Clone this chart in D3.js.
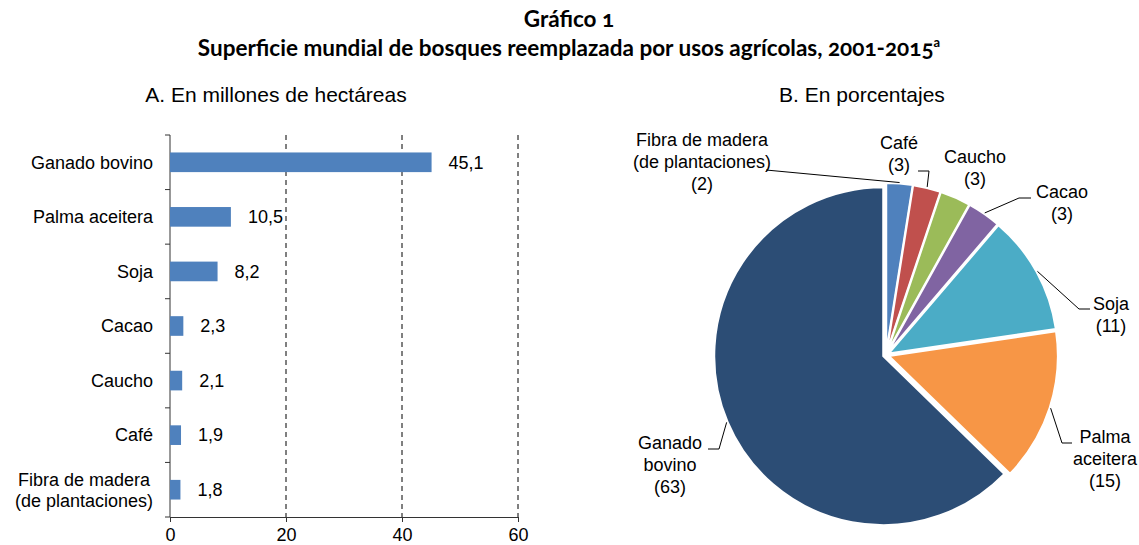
<!DOCTYPE html>
<html>
<head>
<meta charset="utf-8">
<script src="https://cdn.jsdelivr.net/npm/d3@7"></script>
<style>
  body { margin: 0; background: #fff; }
  text { font-family: "Liberation Sans", Arial, sans-serif; fill: #000; }
  .title { font-family: Lato, "Open Sans", sans-serif; font-weight: bold; font-variant-numeric: oldstyle-nums; }
</style>
</head>
<body>
<div id="chart"></div>
<script>
// data
const categories = ['Ganado bovino', 'Palma aceitera', 'Soja', 'Cacao', 'Caucho', 'Café', 'Fibra de madera (de plantaciones)'];
const categoryLines = [['Ganado bovino'], ['Palma aceitera'], ['Soja'], ['Cacao'], ['Caucho'], ['Café'], ['Fibra de madera', '(de plantaciones)']];
const hectares = [45.1, 10.5, 8.2, 2.3, 2.1, 1.9, 1.8];
const valueLabels = ['45,1', '10,5', '8,2', '2,3', '2,1', '1,9', '1,8'];
const xTicks = [0, 20, 40, 60];

// pie, clockwise from 12 o'clock
const pieCategories = ['Fibra de madera (de plantaciones)', 'Café', 'Caucho', 'Cacao', 'Soja', 'Palma aceitera', 'Ganado bovino'];
const pieHectares = [1.8, 1.9, 2.1, 2.3, 8.2, 10.5, 45.1];
const percentages = [2, 3, 3, 3, 11, 15, 63];
const pieLabelLines = [['Fibra de madera', '(de plantaciones)'], ['Café'], ['Caucho'], ['Cacao'], ['Soja'], ['Palma', 'aceitera'], ['Ganado', 'bovino']];
const pieColors = ['#4F81BD', '#C0504D', '#9BBB59', '#8064A2', '#4BACC6', '#F79646', '#2C4D75'];

// label placement for the pie (layout only)
const pieLabelLayout = [
  { x: 702, y: 146, leader: [[766, 170]] },
  { x: 899, y: 149, leader: [[918, 171], [929, 171]] },
  { x: 975, y: 163, leader: null },
  { x: 1062, y: 198, leader: [[1031, 198], [1019, 198]] },
  { x: 1111, y: 310, leader: [[1090, 309], [1079, 309]] },
  { x: 1105, y: 443, leader: [[1072, 443], [1062, 443]] },
  { x: 670, y: 449, leader: [[708, 449], [719, 449]] },
];

const W = 1139;
const H = 545;

const svg = d3.select('#chart')
  .append('svg')
  .attr('width', W)
  .attr('height', H);

// titles
svg.append('text')
  .attr('class', 'title')
  .attr('x', 569)
  .attr('y', 27)
  .attr('text-anchor', 'middle')
  .style('font-size', '22.5px')
  .text('Gráfico 1');

const t2 = svg.append('text')
  .attr('class', 'title')
  .attr('x', 569)
  .attr('y', 56)
  .attr('text-anchor', 'middle')
  .style('font-size', '22.5px');
t2.append('tspan').text('Superficie mundial de bosques reemplazada por usos agrícolas, 2001-2015');
t2.append('tspan').attr('dy', -9).style('font-size', '13px').text('a');

svg.append('text')
  .attr('x', 276)
  .attr('y', 102)
  .attr('text-anchor', 'middle')
  .style('font-size', '21px')
  .text('A. En millones de hectáreas');

svg.append('text')
  .attr('x', 862)
  .attr('y', 102)
  .attr('text-anchor', 'middle')
  .style('font-size', '21px')
  .text('B. En porcentajes');

// ---- A: bar chart ----
const xScale = d3.scaleLinear().domain([0, 60]).range([170, 518]);
const yScale = d3.scaleBand()
  .domain(categories)
  .range([135, 517])
  .paddingInner(0.64)
  .paddingOuter(0.32);

const barG = svg.append('g');

// dashed gridlines
barG.selectAll('.grid')
  .data(xTicks.filter(d => d > 0))
  .enter()
  .append('line')
  .attr('x1', d => xScale(d))
  .attr('x2', d => xScale(d))
  .attr('y1', yScale.range()[0])
  .attr('y2', yScale.range()[1])
  .attr('stroke', '#000')
  .attr('stroke-width', 1)
  .attr('stroke-dasharray', '5,4');

// x axis
const xAxis = barG.append('g')
  .attr('transform', `translate(0,${yScale.range()[1]})`)
  .call(d3.axisBottom(xScale).tickValues(xTicks).tickSize(5).tickPadding(6).tickSizeOuter(0));
xAxis.select('.domain').attr('stroke', '#333');
xAxis.selectAll('.tick line').attr('stroke', '#333');
xAxis.selectAll('.tick text')
  .style('font-size', '18px')
  .style('font-family', '"Liberation Sans", Arial, sans-serif')
  .attr('fill', '#000');

// y axis with ticks at category boundaries
barG.append('line')
  .attr('x1', xScale(0))
  .attr('x2', xScale(0))
  .attr('y1', yScale.range()[0])
  .attr('y2', yScale.range()[1])
  .attr('stroke', '#333');
barG.selectAll('.ytick')
  .data(d3.range(categories.length + 1))
  .enter()
  .append('line')
  .attr('x1', xScale(0) - 5)
  .attr('x2', xScale(0))
  .attr('y1', i => yScale.range()[0] + i * yScale.step())
  .attr('y2', i => yScale.range()[0] + i * yScale.step())
  .attr('stroke', '#333');

// bars
barG.selectAll('.bar')
  .data(categories)
  .enter()
  .append('rect')
  .attr('x', xScale(0))
  .attr('y', d => yScale(d))
  .attr('width', (d, i) => xScale(hectares[i]) - xScale(0))
  .attr('height', yScale.bandwidth())
  .attr('fill', '#4F81BD');

// value labels
barG.selectAll('.val')
  .data(categories)
  .enter()
  .append('text')
  .attr('x', (d, i) => xScale(hectares[i]) + 17)
  .attr('y', d => yScale(d) + yScale.bandwidth() / 2)
  .attr('dy', '0.35em')
  .style('font-size', '18px')
  .text((d, i) => valueLabels[i]);

// category labels
categories.forEach((c, i) => {
  const lines = categoryLines[i];
  const cy = yScale(c) + yScale.bandwidth() / 2;
  const txt = barG.append('text')
    .style('font-size', '18px')
    .attr('y', cy - (lines.length - 1) * 10.5);
  lines.forEach((l, j) => {
    txt.append('tspan').attr('dy', j === 0 ? '0.35em' : 21).text(l);
  });
  const right = xScale(0) - 17;
  if (lines.length === 1) {
    txt.attr('text-anchor', 'end');
    txt.selectAll('tspan').attr('x', right);
  } else {
    let wmax = 0;
    txt.selectAll('tspan').each(function () {
      wmax = Math.max(wmax, this.getComputedTextLength());
    });
    txt.attr('text-anchor', 'middle');
    txt.selectAll('tspan').attr('x', right - wmax / 2);
  }
});

// ---- B: pie ----
const cx = 886;
const cy = 355;
const radius = 169;
const explode = 3;

const pie = d3.pie().sort(null).value(d => d);
const arcs = pie(pieHectares);
const arc = d3.arc().innerRadius(0).outerRadius(radius);
const pieG = svg.append('g').attr('transform', `translate(${cx},${cy})`);

const offset = (a) => {
  const m = (a.startAngle + a.endAngle) / 2;
  return [Math.sin(m) * explode, -Math.cos(m) * explode];
};

pieG.selectAll('.slice')
  .data(arcs)
  .enter()
  .append('path')
  .attr('transform', d => `translate(${offset(d)[0]},${offset(d)[1]})`)
  .attr('d', arc)
  .attr('fill', (d, i) => pieColors[i])
  .attr('stroke', '#fff')
  .attr('stroke-width', 2);

// leader lines
arcs.forEach((a, i) => {
  const lay = pieLabelLayout[i];
  if (!lay.leader) return;
  const m = (a.startAngle + a.endAngle) / 2;
  const o = offset(a);
  const edge = [cx + o[0] + Math.sin(m) * (radius + 1), cy + o[1] - Math.cos(m) * (radius + 1)];
  const pts = lay.leader.concat([edge]);
  svg.append('path')
    .attr('d', d3.line()(pts))
    .attr('fill', 'none')
    .attr('stroke', '#000')
    .attr('stroke-width', 1);
});

// pie labels
arcs.forEach((a, i) => {
  const lay = pieLabelLayout[i];
  const lines = pieLabelLines[i].concat([`(${percentages[i]})`]);
  const txt = svg.append('text')
    .attr('text-anchor', 'middle')
    .attr('x', lay.x)
    .attr('y', lay.y)
    .style('font-size', '18px');
  lines.forEach((l, j) => {
    txt.append('tspan')
      .attr('x', lay.x)
      .attr('dy', j === 0 ? 0 : 22)
      .text(l);
  });
});
</script>
</body>
</html>
